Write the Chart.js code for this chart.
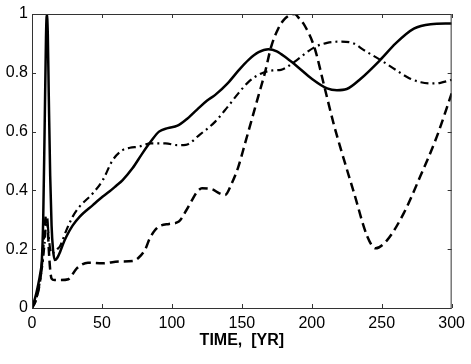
<!DOCTYPE html>
<html>
<head>
<meta charset="utf-8">
<script src="https://cdn.jsdelivr.net/npm/chart.js@4/dist/chart.umd.min.js"></script>
<style>
html,body{margin:0;padding:0;background:#fff;}
#wrap{width:471px;height:364px;position:relative;}
</style>
</head>
<body>
<div id="wrap"><canvas id="c" width="471" height="364"></canvas></div>
<script>
// ---- data ----
const xTicks = [0, 50, 100, 150, 200, 250, 300];
const yTicks = [0, 0.2, 0.4, 0.6, 0.8, 1];
const xTitle = "TIME,  [YR]";

const solidX = [0,2,4,6,7,8,9,10,10.6,11.3,12,13,14,15,16.3,18,20,22,24.6,29,34,43.5,50.6,55.3,60,64.8,71.8,78.9,84.9,90.8,97,104,110,118,125,131,140,148,155,162,169,175,182,190,200,211,218,225,235,249,260,273,285,300];
const solidY = [0,0.03,0.07,0.12,0.16,0.3,0.6,0.92,1.0,0.93,0.72,0.45,0.28,0.2,0.163,0.17,0.19,0.215,0.243,0.28,0.31,0.35,0.379,0.396,0.415,0.435,0.475,0.526,0.566,0.6,0.612,0.62,0.64,0.675,0.705,0.725,0.765,0.81,0.845,0.87,0.88,0.873,0.85,0.82,0.78,0.747,0.741,0.745,0.78,0.844,0.9,0.95,0.965,0.968];

const dashDotX = [0,3,6,8,9,10,11,12,13,14,16,18,20,24.6,29,34,43.5,50.6,57.7,64.8,70,76.6,84.9,95.5,103.8,110,120,131,140,147.5,155,164,172,178,184,190,202,211,221,230,237,249,260,270,278,285,292,300];
const dashDotY = [0,0.03,0.1,0.17,0.22,0.28,0.29,0.24,0.2,0.185,0.19,0.2,0.21,0.265,0.31,0.345,0.39,0.435,0.503,0.537,0.545,0.549,0.56,0.56,0.554,0.555,0.59,0.634,0.685,0.73,0.77,0.798,0.808,0.81,0.825,0.846,0.887,0.902,0.906,0.9,0.878,0.844,0.81,0.781,0.768,0.764,0.766,0.776];

const dashedX = [0,3,6,7.5,9,10,11,12,13,14,16,20,26,32,40,50,62,72,76,81,84,88,91,98,105,110,114.4,118,121.5,128.6,134,138,142.8,147.5,152.3,157,161.7,166.4,171,176,181,187.7,191,195,202,209,216,221,230.3,239.7,245.6,253.9,265.7,277.5,289.4,300];
const dashedY = [0,0.03,0.1,0.17,0.27,0.315,0.3,0.2,0.13,0.1,0.095,0.095,0.098,0.135,0.154,0.152,0.158,0.16,0.17,0.2,0.235,0.265,0.278,0.286,0.294,0.33,0.367,0.395,0.407,0.404,0.39,0.384,0.424,0.48,0.56,0.639,0.719,0.798,0.889,0.95,0.985,1.0,0.985,0.96,0.885,0.753,0.62,0.537,0.39,0.243,0.203,0.231,0.322,0.447,0.583,0.73];

function pts(xs, ys){ return xs.map((x,i)=>({x:x, y:ys[i]})); }

const FONT = "'Liberation Sans', Arial, Helvetica, sans-serif";

// MATLAB-style box with inward ticks
const boxPlugin = {
  id: 'box',
  afterDraw(chart){
    const {ctx, chartArea:a, scales} = chart;
    ctx.save();
    ctx.strokeStyle = '#333';
    ctx.lineWidth = 1;
    ctx.beginPath();
    ctx.rect(a.left+0.5, a.top+0.5, a.right-a.left-1, a.bottom-a.top);
    ctx.stroke();
    const tl = 4;
    ctx.beginPath();
    xTicks.forEach(v=>{
      const px = Math.round(scales.x.getPixelForValue(v))+0.5;
      ctx.moveTo(px, a.bottom); ctx.lineTo(px, a.bottom-tl);
      ctx.moveTo(px, a.top); ctx.lineTo(px, a.top+tl);
    });
    yTicks.forEach(v=>{
      const py = Math.round(scales.y.getPixelForValue(v))+0.5;
      ctx.moveTo(a.left, py); ctx.lineTo(a.left+tl, py);
      ctx.moveTo(a.right, py); ctx.lineTo(a.right-tl, py);
    });
    ctx.stroke();
    ctx.restore();
  }
};

new Chart(document.getElementById('c'), {
  type: 'line',
  data: {
    datasets: [
      { label: 'solid', data: pts(solidX, solidY), borderColor: '#000', borderWidth: 2.5, pointRadius: 0, fill: false, cubicInterpolationMode: 'monotone' },
      { label: 'dash-dot', data: pts(dashDotX, dashDotY), borderColor: '#000', borderWidth: 2.2, borderDash: [8,4,2,4], pointRadius: 0, fill: false, cubicInterpolationMode: 'monotone' },
      { label: 'dashed', data: pts(dashedX, dashedY), borderColor: '#000', borderWidth: 2.5, borderDash: [9,5], pointRadius: 0, fill: false, cubicInterpolationMode: 'monotone' }
    ]
  },
  options: {
    responsive: false,
    animation: false,
    devicePixelRatio: 1,
    layout: { padding: { top: 14, right: 16, left: 0, bottom: 0 } },
    plugins: { legend: { display: false }, tooltip: { enabled: false } },
    scales: {
      x: {
        type: 'linear', min: 0, max: 300,
        afterBuildTicks(s){ s.ticks = xTicks.map(v=>({value:v})); },
        afterFit(s){ s.height = 56; },
        grid: { display: false, drawTicks: false },
        border: { display: false },
        ticks: { color: '#000', padding: 6, maxRotation: 0, font: { family: FONT, size: 16 } },
        title: { display: true, text: xTitle, color: '#000', padding: { top: 0, bottom: 14 }, font: { family: FONT, size: 16, weight: 'bold' } }
      },
      y: {
        type: 'linear', min: 0, max: 1,
        afterBuildTicks(s){ s.ticks = yTicks.map(v=>({value:v})); },
        afterFit(s){ s.width = 32; },
        grid: { display: false, drawTicks: false },
        border: { display: false },
        ticks: { color: '#000', padding: 4, font: { family: FONT, size: 16 }, callback: v => String(v) }
      }
    }
  },
  plugins: [boxPlugin]
});
</script>
</body>
</html>
